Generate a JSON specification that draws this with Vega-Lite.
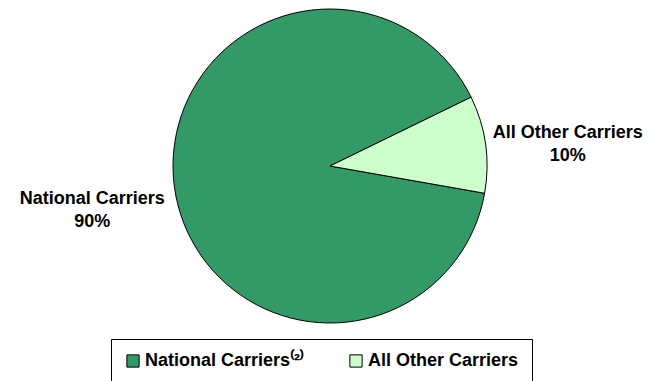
{
  "$schema": "https://vega.github.io/schema/vega-lite/v6.json",
  "width": 660,
  "height": 332,
  "autosize": {"type": "none"},
  "padding": {"left": 0, "top": 0, "right": 0, "bottom": 49},
  "background": "white",
  "config": {"view": {"stroke": null}},
  "data": {
    "values": [
      {"carrier": "National Carriers", "share": 90},
      {"carrier": "All Other Carriers", "share": 10}
    ]
  },
  "transform": [
    {"calculate": "datum.carrier + '|' + datum.share + '%'", "as": "label"}
  ],
  "encoding": {
    "theta": {
      "field": "share",
      "type": "quantitative",
      "stack": true,
      "scale": {"range": [1.117, 7.4002]}
    }
  },
  "layer": [
    {
      "mark": {"type": "arc", "outerRadius": 157, "stroke": "black", "strokeWidth": 1},
      "encoding": {
        "color": {
          "field": "carrier",
          "type": "nominal",
          "scale": {
            "domain": ["National Carriers", "All Other Carriers"],
            "range": ["#339966", "#CCFFCC"]
          },
          "legend": {
            "title": null,
            "orient": "none",
            "legendX": 111,
            "legendY": 339,
            "direction": "horizontal",
            "strokeColor": "black",
            "cornerRadius": 0,
            "padding": 13,
            "symbolType": "square",
            "symbolSize": 150,
            "symbolStrokeColor": "black",
            "symbolStrokeWidth": 1,
            "symbolOpacity": 1,
            "labelFont": "Liberation Sans",
            "labelFontWeight": "bold",
            "labelFontSize": 18,
            "labelColor": "black",
            "labelOffset": 3,
            "columnPadding": 42,
            "labelLimit": 400,
            "labelExpr": "datum.label === 'National Carriers' ? 'National Carriers⁽²⁾' : datum.label"
          }
        }
      }
    },
    {
      "mark": {
        "type": "text",
        "radius": 240,
        "font": "Liberation Sans",
        "fontWeight": "bold",
        "fontSize": 18,
        "lineHeight": 23,
        "lineBreak": "|",
        "color": "black",
        "align": "center",
        "baseline": "middle"
      },
      "encoding": {
        "detail": {"field": "carrier", "type": "nominal"},
        "text": {"field": "label", "type": "nominal"}
      }
    }
  ]
}
